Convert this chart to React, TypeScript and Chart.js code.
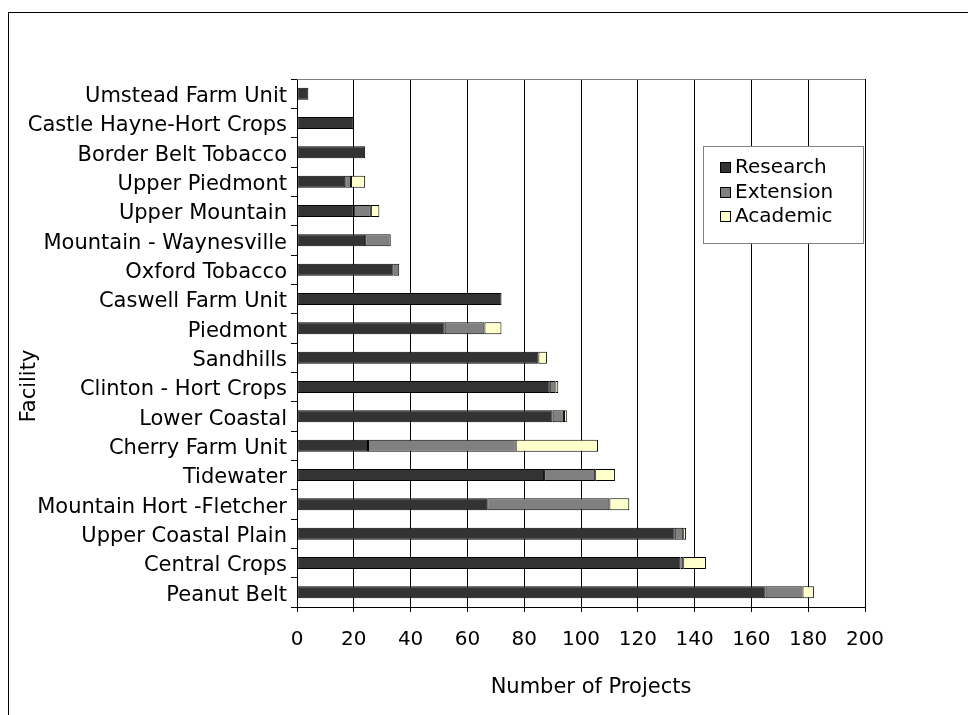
import React, { useEffect, useRef } from "react";
import { Chart, registerables } from "chart.js";

Chart.register(...registerables);

// Facilities, top to bottom
const facilities = [
  "Umstead Farm Unit",
  "Castle Hayne-Hort Crops",
  "Border Belt Tobacco",
  "Upper Piedmont",
  "Upper Mountain",
  "Mountain - Waynesville",
  "Oxford Tobacco",
  "Caswell Farm Unit",
  "Piedmont",
  "Sandhills",
  "Clinton - Hort Crops",
  "Lower Coastal",
  "Cherry Farm Unit",
  "Tidewater",
  "Mountain Hort -Fletcher",
  "Upper Coastal Plain",
  "Central Crops",
  "Peanut Belt",
];

// Number of projects per facility, by type
const research = [4, 20, 24, 17, 20, 24, 34, 72, 52, 85, 89, 90, 25, 87, 67, 133, 135, 165];
const extension = [null, null, null, 2, 6, 9, 2, null, 14, null, 2, 4, 52, 18, 43, 3, 1, 13];
const academic = [null, null, null, 5, 3, null, null, null, 6, 3, 1, 1, 29, 7, 7, 1, 8, 4];

const seriesNames = ["Research", "Extension", "Academic"];
const seriesColors = ["#333333", "#808080", "#FFFFCC"];

const xMin = 0;
const xMax = 200;
const xStep = 20;

const xTitle = "Number of Projects";
const yTitle = "Facility";

const FONT = "'DejaVu Sans', sans-serif";

const decorPlugin = {
  id: "decor",
  beforeDatasetsDraw(chart: any) {
    const { ctx, chartArea } = chart;
    ctx.save();
    ctx.strokeStyle = "#808080";
    ctx.lineWidth = 1;
    ctx.beginPath();
    ctx.moveTo(chartArea.left, Math.round(chartArea.top) + 0.5);
    ctx.lineTo(chartArea.right, Math.round(chartArea.top) + 0.5);
    ctx.stroke();
    ctx.restore();
  },
  afterDraw(chart: any) {
    const { ctx, chartArea } = chart;
    ctx.save();
    ctx.fillStyle = "#000";
    ctx.textAlign = "center";
    ctx.textBaseline = "middle";
    ctx.font = `21px ${FONT}`;
    // x axis title
    ctx.fillText(xTitle, (chartArea.left + chartArea.right) / 2 + 10, chartArea.bottom + 81);
    // y axis title
    ctx.save();
    ctx.translate(chartArea.left - 267, chartArea.top + 307);
    ctx.rotate(-Math.PI / 2);
    ctx.fillText(yTitle, 0, 0);
    ctx.restore();

    // legend box
    const lx = chartArea.left + 406;
    const ly = chartArea.top + 67;
    const lw = 160;
    const lh = 97;
    ctx.fillStyle = "#fff";
    ctx.fillRect(lx, ly, lw, lh);
    ctx.strokeStyle = "#808080";
    ctx.lineWidth = 1;
    ctx.strokeRect(lx + 0.5, ly + 0.5, lw, lh);
    ctx.font = `20px ${FONT}`;
    ctx.textAlign = "left";
    chart.data.datasets.forEach((ds: any, i: number) => {
      const cy = ly + 21 + i * 24.5;
      ctx.fillStyle = ds.backgroundColor;
      ctx.fillRect(lx + 17, Math.round(cy - 5), 10, 10);
      ctx.strokeStyle = "#000";
      ctx.strokeRect(lx + 17.5, Math.round(cy - 5) + 0.5, 10, 10);
      ctx.fillStyle = "#000";
      ctx.fillText(ds.label, lx + 32, cy + 1);
    });
    ctx.restore();
  },
};

export default function App() {
  const canvasRef = useRef<HTMLCanvasElement | null>(null);

  useEffect(() => {
    const canvas = canvasRef.current;
    if (!canvas) return;
    const values = [research, extension, academic];
    const chart = new Chart(canvas, {
      type: "bar",
      data: {
        labels: facilities,
        datasets: seriesNames.map((name, i) => ({
          label: name,
          data: values[i] as any,
          backgroundColor: seriesColors[i],
          borderColor: "#000",
          borderWidth: 1,
          borderSkipped: false,
          barPercentage: 0.41,
          categoryPercentage: 1,
        })),
      },
      options: {
        indexAxis: "y",
        responsive: false,
        animation: false,
        devicePixelRatio: 1,
        layout: { padding: { left: 0, right: 103, top: 66, bottom: 0 } },
        plugins: {
          legend: { display: false },
          tooltip: { enabled: false },
        },
        scales: {
          x: {
            stacked: true,
            min: xMin,
            max: xMax,
            ticks: {
              stepSize: xStep,
              color: "#000",
              font: { family: FONT, size: 20 },
              padding: 16,
              maxRotation: 0,
            },
            grid: { color: "#000", lineWidth: 1, tickLength: 5 },
            border: { color: "#000" },
            afterFit(scale: any) {
              scale.height = 108;
            },
          },
          y: {
            stacked: true,
            ticks: {
              color: "#000",
              font: { family: FONT, size: 21 },
              padding: 4,
              labelOffset: 3,
              autoSkip: false,
            },
            grid: {
              offset: true,
              drawOnChartArea: false,
              tickLength: 6,
              color: "#000",
            },
            border: { color: "#000" },
            afterFit(scale: any) {
              scale.width = 288;
            },
          },
        },
      },
      plugins: [decorPlugin],
    });
    return () => chart.destroy();
  }, []);

  return (
    <div
      style={{
        position: "absolute",
        left: 8,
        top: 12,
        width: 959,
        height: 702,
        borderTop: "1px solid #000",
        borderLeft: "1px solid #000",
        background: "#fff",
      }}
    >
      <canvas ref={canvasRef} width={959} height={702} style={{ display: "block" }} />
    </div>
  );
}
